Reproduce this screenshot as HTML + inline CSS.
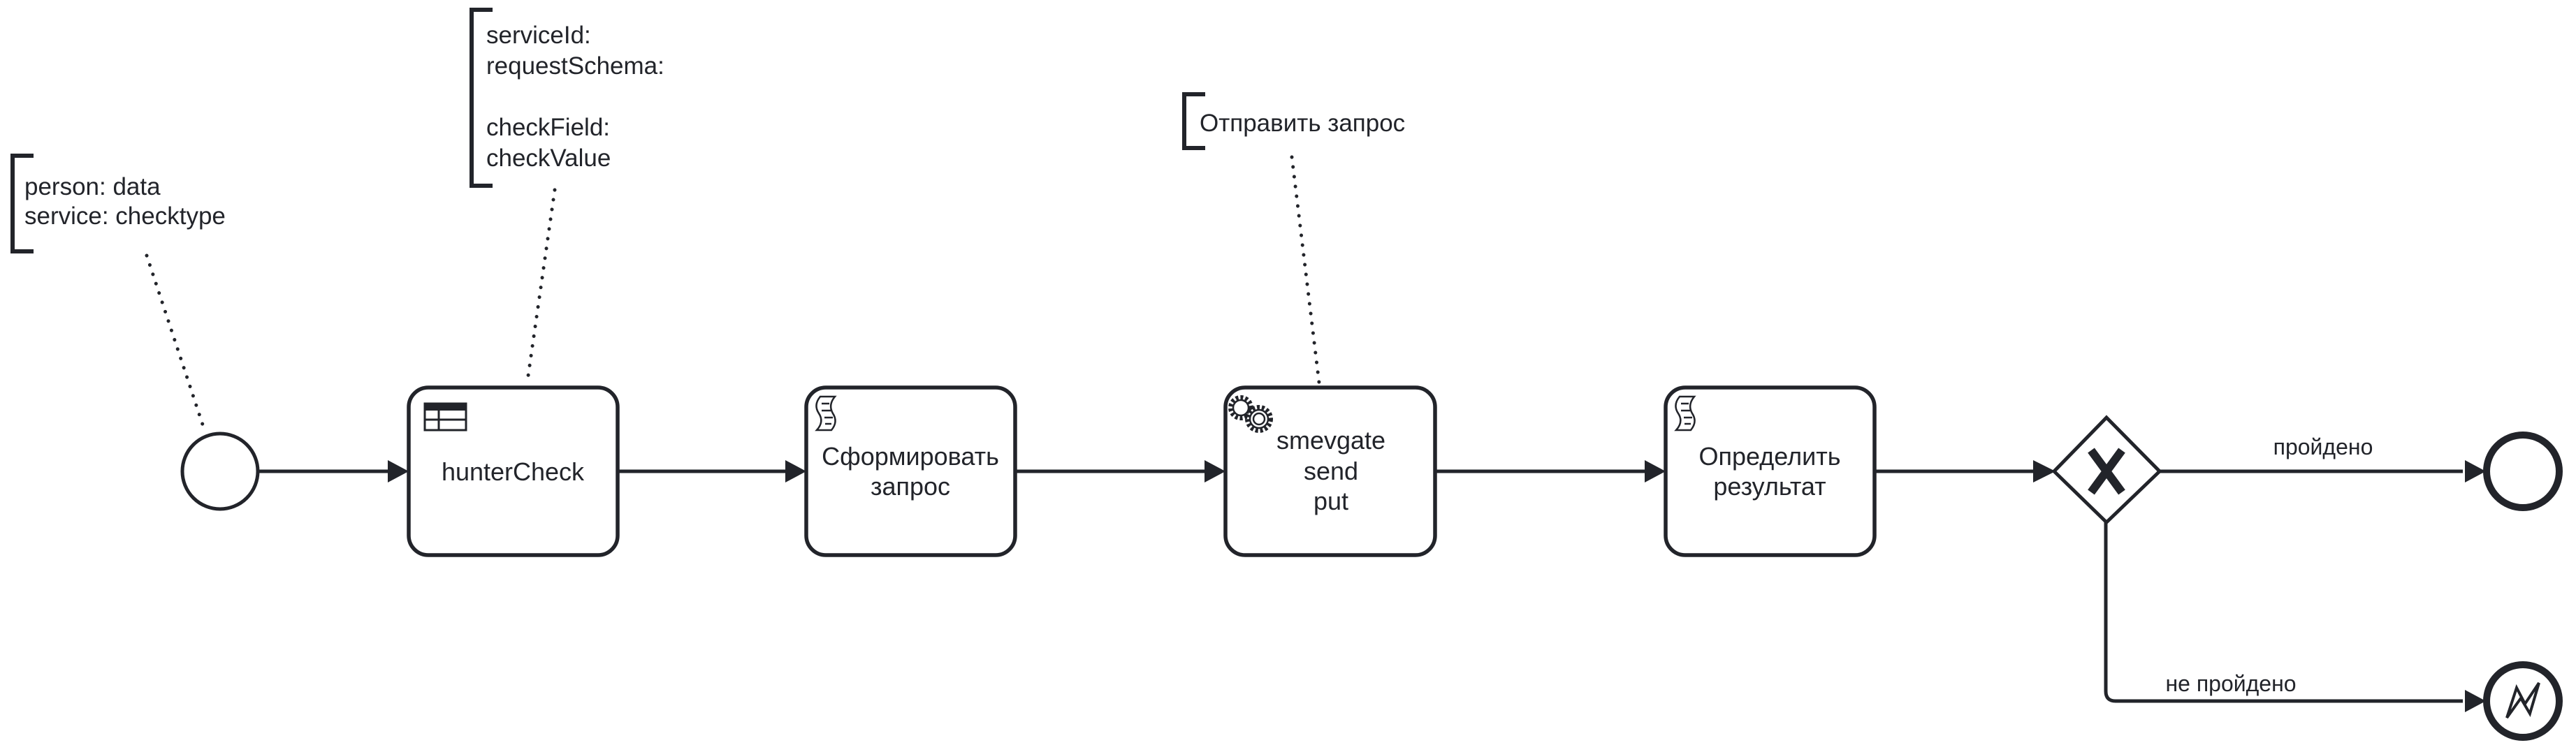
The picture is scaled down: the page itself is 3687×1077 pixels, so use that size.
<!DOCTYPE html>
<html><head><meta charset="utf-8"><style>
html,body{margin:0;padding:0;background:#fff;}
svg{display:block}
text{font-family:"Liberation Sans","Noto Sans CJK SC",sans-serif;fill:#22242a;}
</style></head><body>
<svg width="3687" height="1077" viewBox="0 0 3687 1077" xmlns="http://www.w3.org/2000/svg">
<g stroke="#22242a" fill="none">
<!-- annotations -->
<path d="M48,223 H18 V360 H48" stroke-width="6"/>
<path d="M705,14 H675 V266 H705" stroke-width="6"/>
<path d="M1725,135 H1695 V212 H1725" stroke-width="6"/>
<!-- dotted associations -->
<path d="M210,366 L292,614" stroke-width="5" stroke-dasharray="0.1 14" stroke-linecap="round"/>
<path d="M794,272 L755,545" stroke-width="5" stroke-dasharray="0.1 14" stroke-linecap="round"/>
<path d="M1849,225 L1888,548" stroke-width="5" stroke-dasharray="0.1 14" stroke-linecap="round"/>
<!-- flows -->
<path d="M369,675 H560" stroke-width="5"/>
<path d="M884,675 H1125" stroke-width="5"/>
<path d="M1454,675 H1725" stroke-width="5"/>
<path d="M2056,675 H2355" stroke-width="5"/>
<path d="M2683,675 H2915" stroke-width="5"/>
<path d="M3090,675 H3525" stroke-width="5"/>
<path d="M3014,748 V990 Q3014,1004 3028,1004 H3525" stroke-width="5"/>
<!-- start -->
<circle cx="315" cy="675" r="54" stroke-width="5" fill="#fff"/>
<!-- tasks -->
<rect x="585" y="555" width="299" height="240" rx="28" stroke-width="5.5" fill="#fff"/>
<rect x="1154" y="555" width="299" height="240" rx="28" stroke-width="5.5" fill="#fff"/>
<rect x="1754" y="555" width="300" height="240" rx="28" stroke-width="5.5" fill="#fff"/>
<rect x="2384" y="555" width="299" height="240" rx="28" stroke-width="5.5" fill="#fff"/>
<!-- gateway -->
<polygon points="3015,598 3091,675 3015,748 2940,675" stroke-width="5" fill="#fff"/>
<!-- ends -->
<circle cx="3611" cy="675" r="52" stroke-width="10" fill="#fff"/>
<circle cx="3611" cy="1004" r="52" stroke-width="10" fill="#fff"/>
<path d="M3588,1028 L3602,985 L3614,1008 L3634,978 L3621,1022 L3608,1000 Z" stroke-width="4" fill="#fff"/>
<!-- table icon -->
<rect x="608" y="578" width="59" height="38" stroke-width="3" fill="#fff"/>
<rect x="608" y="578" width="59" height="10" fill="#22242a" stroke="none"/>
<path d="M608,601 H667 M628,588 V616" stroke-width="3"/>
<!-- script icons -->
<g stroke-width="2.5" fill="#fff">
<path d="M1174,568 H1195 Q1185,580 1192,592 Q1200,604 1190,616 H1169 Q1180,604 1172,592 Q1164,580 1174,568 Z"/>
<path d="M1176,578 H1187 M1176,588 H1189 M1180,598 H1192 M1181,607 H1190"/>
<path d="M2404,568 H2425 Q2415,580 2422,592 Q2430,604 2420,616 H2399 Q2410,604 2402,592 Q2394,580 2404,568 Z"/>
<path d="M2406,578 H2417 M2406,588 H2419 M2410,598 H2422 M2411,607 H2420"/>
</g>
<!-- gears -->
<g fill="#fff">
<circle cx="1776" cy="584" r="15" stroke-dasharray="4 3" stroke-width="6"/>
<circle cx="1776" cy="584" r="11" stroke-width="2.5"/>
<circle cx="1802" cy="600" r="17" stroke-dasharray="4 3" stroke-width="6"/>
<circle cx="1802" cy="600" r="13" stroke-width="2.5"/>
<circle cx="1802" cy="600" r="8" stroke-width="2.5"/>
</g>
</g>
<!-- arrowheads -->
<g fill="#22242a">
<polygon points="585,675 555,659 555,691"/>
<polygon points="1154,675 1124,659 1124,691"/>
<polygon points="1754,675 1724,659 1724,691"/>
<polygon points="2384,675 2354,659 2354,691"/>
<polygon points="2942,675 2910,659 2910,691"/>
<polygon points="3558,675 3528,659 3528,691"/>
<polygon points="3558,1004 3528,988 3528,1020"/>
</g>
<!-- X -->
<path d="M2993,645 L3037,705 M3037,645 L2993,705" stroke="#22242a" stroke-width="12"/>
<!-- texts -->
<g font-size="35">
<text x="35" y="279">person: data</text>
<text x="35" y="321">service: checktype</text>
<text x="696" y="62">serviceId:</text>
<text x="696" y="106">requestSchema:</text>
<text x="696" y="194">checkField:</text>
<text x="696" y="238">checkValue</text>
<text x="1717" y="188">Отправить запрос</text>
</g>
<g font-size="36" text-anchor="middle">
<text x="734" y="688">hunterCheck</text>
<text x="1303" y="666">Сформировать</text>
<text x="1303" y="709">запрос</text>
<text x="1905" y="643">smevgate</text>
<text x="1905" y="687">send</text>
<text x="1905" y="730">put</text>
<text x="2533" y="666">Определить</text>
<text x="2533" y="709">результат</text>
</g>
<g font-size="32" text-anchor="middle">
<text x="3325" y="651">пройдено</text>
<text x="3193" y="990">не пройдено</text>
</g>
</svg>
</body></html>
